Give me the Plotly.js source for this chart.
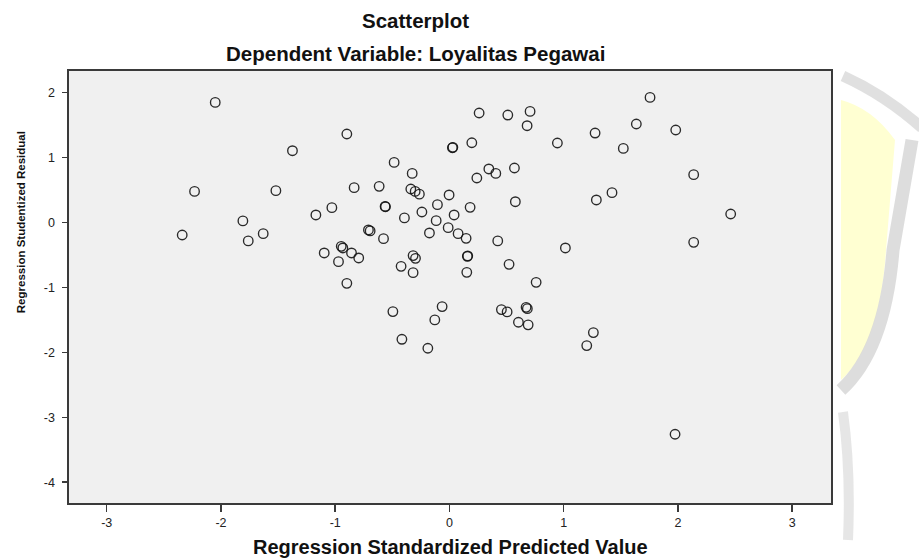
<!DOCTYPE html>
<html>
<head>
<meta charset="utf-8">
<script src="https://cdn.plot.ly/plotly-3.0.1.min.js"></script>
<style>
html,body{margin:0;padding:0;background:#fff;}
#chart{width:919px;height:558px;}
</style>
</head>
<body>
<div id="chart"></div>
<script>
// Regression Standardized Predicted Value
var predicted = [
  -2.050, -0.898, -1.374, -2.231, -1.519, -0.834, -1.029, -1.169, -1.808, -2.339,
  -1.630, -1.761, -0.947, -0.933, -1.096, -0.857, -0.971, -0.794, -0.898,
   0.260,  0.511,  0.706,  0.680,  0.026,  0.030,  0.196,  0.945,  1.275,  1.522,
  -0.484, -0.326,  0.345,  0.406,  0.569,  0.240, -0.615, -0.338, -0.300, -0.263,
  -0.003, -0.563, -0.560, -0.105,  0.181,  0.577,  1.286,  1.423, -0.394, -0.241,
   0.041, -0.116, -0.709, -0.694, -0.011, -0.175,  0.076,  0.146, -0.577,  0.423,
   1.015, -0.318, -0.297, -0.423,  0.157,  0.160,  0.522, -0.318,  0.152,  0.759,
   1.756,  1.636,  1.981,  2.138,  2.462,  2.138, -0.495, -0.064, -0.128,  0.455,
   0.505,  0.671,  0.682,  0.604,  0.689,  1.260,  1.202, -0.416, -0.189,  1.975
];
// Regression Studentized Residual
var residual = [
   1.846,  1.360,  1.103,  0.477,  0.488,  0.534,  0.226,  0.114,  0.022, -0.194,
  -0.174, -0.286, -0.369, -0.394, -0.471, -0.471, -0.605, -0.548, -0.938,
   1.683,  1.652,  1.708,  1.488,  1.149,  1.155,  1.226,  1.222,  1.375,  1.138,
   0.923,  0.754,  0.822,  0.754,  0.837,  0.683,  0.554,  0.514,  0.477,  0.434,
   0.422,  0.246,  0.240,  0.272,  0.231,  0.318,  0.345,  0.457,  0.068,  0.160,
   0.114,  0.026, -0.117, -0.132, -0.082, -0.163, -0.174, -0.246, -0.251, -0.286,
  -0.394, -0.512, -0.554, -0.677, -0.523, -0.517, -0.646, -0.774, -0.769, -0.923,
   1.923,  1.514,  1.422,  0.734,  0.129, -0.308, -1.374, -1.297, -1.502, -1.343,
  -1.378, -1.308, -1.328, -1.538, -1.578, -1.697, -1.897, -1.800, -1.938, -3.262
];
var xTicks = [-3, -2, -1, 0, 1, 2, 3];
var yTicks = [2, 1, 0, -1, -2, -3, -4];
var chartTitle = 'Scatterplot';
var chartSubtitle = 'Dependent Variable: Loyalitas Pegawai';
var xTitle = 'Regression Standardized Predicted Value';
var yTitle = 'Regression Studentized Residual';

var FONT = 'Liberation Sans, Arial, sans-serif';
var M = {l: 69, r: 88, t: 71, b: 55};
var W = 919, H = 558;
var PW = W - M.l - M.r, PH = H - M.t - M.b;

// faint decorative watermark outside the plot (pixel -> paper helper)
function px(x, y) { return ((x - M.l) / PW).toFixed(4) + ',' + ((H - M.b - y) / PH).toFixed(4); }
var wmShapes = [
  {type: 'path', xref: 'paper', yref: 'paper', layer: 'below',
   path: 'M' + px(841, 100) + ' Q' + px(872, 108) + ' ' + px(895, 140) +
         ' L' + px(886, 250) + ' Q' + px(880, 345) + ' ' + px(841, 380) + ' Z',
   fillcolor: 'rgba(255,255,205,0.9)', line: {width: 0}},
  {type: 'path', xref: 'paper', yref: 'paper', layer: 'below',
   path: 'M' + px(843, 76) + ' Q' + px(885, 95) + ' ' + px(922, 128),
   line: {color: 'rgba(218,218,218,0.85)', width: 11}},
  {type: 'path', xref: 'paper', yref: 'paper', layer: 'below',
   path: 'M' + px(912, 140) + ' L' + px(893, 250) + ' Q' + px(885, 350) + ' ' + px(841, 390),
   line: {color: 'rgba(215,215,215,0.85)', width: 13}},
  {type: 'path', xref: 'paper', yref: 'paper', layer: 'below',
   path: 'M' + px(843, 412) + ' Q' + px(851, 470) + ' ' + px(848, 540),
   line: {color: 'rgba(222,222,222,0.75)', width: 10}}
];

var trace = {
  type: 'scatter',
  mode: 'markers',
  x: predicted,
  y: residual,
  marker: {
    symbol: 'circle-open',
    size: 9.5,
    color: 'rgba(20,20,20,0.9)',
    line: {width: 1.35, color: 'rgba(20,20,20,0.9)'}
  },
  hoverinfo: 'x+y'
};

var axisCommon = {
  showgrid: false,
  zeroline: false,
  showline: true,
  mirror: true,
  linecolor: '#3a3a3a',
  linewidth: 1.6,
  ticks: 'outside',
  tickcolor: '#3a3a3a',
  tickwidth: 1.5,
  tickfont: {family: FONT, size: 12.5, color: '#222'},
  tickmode: 'array'
};

var layout = {
  width: W,
  height: H,
  margin: M,
  paper_bgcolor: '#ffffff',
  plot_bgcolor: '#f0f0f0',
  showlegend: false,
  xaxis: Object.assign({}, axisCommon, {
    range: [-3.33, 3.34],
    tickvals: xTicks,
    ticktext: xTicks.map(String),
    ticklen: 7,
    ticklabelstandoff: 0
  }),
  yaxis: Object.assign({}, axisCommon, {
    range: [-4.32, 2.33],
    tickvals: yTicks,
    ticktext: yTicks.map(String),
    ticklen: 5,
    ticklabelstandoff: 5
  }),
  shapes: wmShapes,
  annotations: [
    {text: chartTitle, xref: 'paper', yref: 'paper', x: 0.455, y: 1.116,
     xanchor: 'center', yanchor: 'middle', showarrow: false,
     font: {family: FONT, size: 20.5, weight: 700, color: '#111'}},
    {text: chartSubtitle, xref: 'paper', yref: 'paper', x: 0.455, y: 1.040,
     xanchor: 'center', yanchor: 'middle', showarrow: false,
     font: {family: FONT, size: 20.5, weight: 700, color: '#111'}},
    {text: xTitle, xref: 'paper', yref: 'paper', x: 0.5, y: -0.102,
     xanchor: 'center', yanchor: 'middle', showarrow: false,
     font: {family: FONT, size: 20, weight: 700, color: '#111'}},
    {text: yTitle, xref: 'paper', yref: 'paper', x: -0.063, y: 0.650,
     xanchor: 'center', yanchor: 'middle', showarrow: false, textangle: -90,
     font: {family: FONT, size: 11.5, weight: 700, color: '#111'}}
  ]
};

Plotly.newPlot('chart', [trace], layout, {displayModeBar: false, staticPlot: true});
</script>
</body>
</html>
